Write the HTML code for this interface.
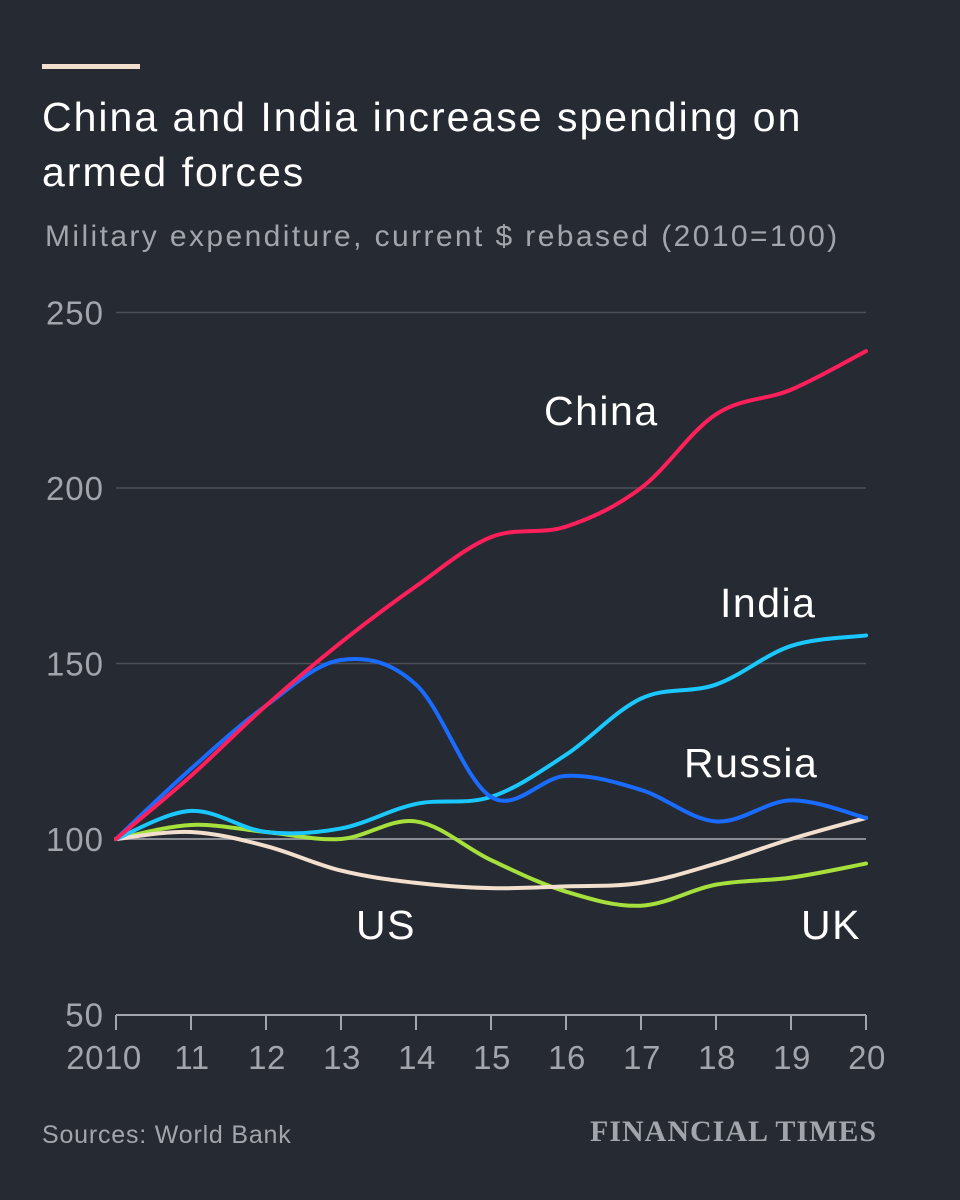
<!DOCTYPE html>
<html><head><meta charset="utf-8"><style>
body{margin:0;background:#262a33;}
#wrap{position:relative;width:960px;height:1200px;background:#262a33;font-family:"Liberation Sans",sans-serif;overflow:hidden}
.t{position:absolute;white-space:nowrap}
</style></head><body>
<div id="wrap">
<div class="t" style="left:42px;top:64px;width:98px;height:5px;background:#f2dfce"></div>
<div class="t" style="left:42px;top:90px;font-size:41px;line-height:55px;color:#fff;letter-spacing:2px">China and India increase spending on<br>armed forces</div>
<div class="t" style="left:45px;top:220px;font-size:30px;color:#a2a5ab;letter-spacing:2.4px">Military expenditure, current $ rebased (2010=100)</div>
<div class="t" style="left:42px;top:1121px;font-size:25px;color:#a2a5ab;letter-spacing:0.8px">Sources: World Bank</div>
<div class="t" style="left:590px;top:1115px;font-family:'Liberation Serif',serif;font-size:30px;font-weight:bold;color:#a2a5ab;letter-spacing:1px">FINANCIAL TIMES</div>
<svg id="c" width="960" height="1200" style="position:absolute;left:0;top:0"></svg>
</div>
<script>
const years=[2010,2011,2012,2013,2014,2015,2016,2017,2018,2019,2020];
const xLabels=["2010","11","12","13","14","15","16","17","18","19","20"];
const yTicks=[50,100,150,200,250];
const china=[100,118,138,156,172,186,189,200,221,228,239];
const russia=[100,120,138,151,144,112,118,114,105,111,106];
const india=[100,108,102,103,110,112,124,140,144,155,158];
const uk=[100,104,102,100,105,94,85,81,87,89,93];
const us=[100,102,98,91,87.5,86,86.5,87.5,93,100,106];
const series=[
 {name:"uk",vals:uk,color:"#a6e03c"},
 {name:"us",vals:us,color:"#f2dfce"},
 {name:"india",vals:india,color:"#1ac8ff"},
 {name:"russia",vals:russia,color:"#1a6cff"},
 {name:"china",vals:china,color:"#ff1f5a"}];
const NS="http://www.w3.org/2000/svg";
const svg=document.getElementById('c');
const x=y=>116+(y-2010)*75;
const yS=v=>839-(v-100)*3.51;
function el(t,a){const e=document.createElementNS(NS,t);for(const k in a)e.setAttribute(k,a[k]);svg.appendChild(e);return e;}
yTicks.forEach(v=>{
 if(v>50){const l=el('line',{x1:116,x2:866,y1:yS(v),y2:yS(v),stroke:v==100?'#8a8d93':'#4b4f58','stroke-width':v==100?2:1.5});
 
 }
 const t=el('text',{x:104,y:yS(v)+12,'text-anchor':'end','font-size':33,fill:'#a2a5ab','font-family':'Liberation Sans, sans-serif','letter-spacing':1});
 t.textContent=v;
 
 
});
const ax=el('line',{x1:116,x2:866,y1:1015,y2:1015,stroke:'#a2a5ab','stroke-width':2});


years.forEach((yr,i)=>{
 const tk=el('line',{x1:x(yr),x2:x(yr),y1:1015,y2:1030,stroke:'#a2a5ab','stroke-width':2});
 
 
 const t=el('text',{x:x(yr)+(i==0?-12:1),y:1069,'text-anchor':'middle','font-size':33,fill:'#a2a5ab','font-family':'Liberation Sans, sans-serif','letter-spacing':0.5});
 t.textContent=xLabels[i];
 
 
});
function path(vals){
 const p=vals.map((v,i)=>[x(years[i]),yS(v)]);
 let d='M'+p[0][0]+','+p[0][1];
 for(let i=0;i<p.length-1;i++){
  const p0=p[Math.max(i-1,0)],p1=p[i],p2=p[i+1],p3=p[Math.min(i+2,p.length-1)];
  const t=0.17;
  d+=' C'+(p1[0]+(p2[0]-p0[0])*t)+','+(p1[1]+(p2[1]-p0[1])*t)+' '+(p2[0]-(p3[0]-p1[0])*t)+','+(p2[1]-(p3[1]-p1[1])*t)+' '+p2[0]+','+p2[1];
 }
 return d;
}
series.forEach(s=>{
 const pth=el('path',{d:path(s.vals),fill:'none',stroke:s.color,'stroke-width':4,'stroke-linejoin':'round','stroke-linecap':'round'});
 
 
});
const labels=[["China",544,425],["India",720,617],["Russia",684,777],["US",356,939],["UK",801,939]];
labels.forEach(l=>{
 const t=el('text',{x:l[1],y:l[2],'font-size':41,fill:'#fff','font-family':'Liberation Sans, sans-serif','letter-spacing':1.5});
 t.textContent=l[0];
 
 
});
</script>
</body></html>
